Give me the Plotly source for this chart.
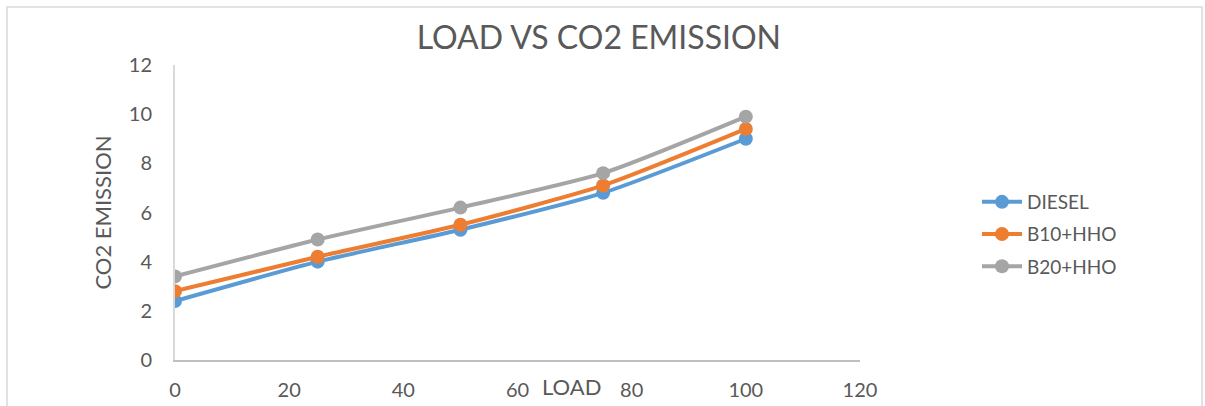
import plotly.graph_objects as go

load = [0, 25, 50, 75, 100]
diesel = [2.4, 4.0, 5.3, 6.8, 9.0]
b10_hho = [2.8, 4.2, 5.5, 7.1, 9.4]
b20_hho = [3.4, 4.9, 6.2, 7.6, 9.9]

series = [("DIESEL", diesel, "#5B9BD5"),
          ("B10+HHO", b10_hho, "#ED7D31"),
          ("B20+HHO", b20_hho, "#A5A5A5")]

W, H = 1205, 406
L, R, T, B = 175, 860, 65, 360

fig = go.Figure()
for name, vals, col in series:
    fig.add_trace(go.Scatter(
        x=load, y=vals, name=name, mode="lines+markers", legendgroup=name,
        line=dict(color=col, width=4, shape="spline", smoothing=0.6),
        marker=dict(color=col, size=14),
    ))

font_family = "Lato"
txt = "#595959"

def px_x(p):
    return (p - L) / (R - L)

def px_y(p):
    return (B - p) / (B - T)

fig.update_layout(
    width=W, height=H,
    margin=dict(l=L, r=W - R, t=T, b=H - B, autoexpand=False),
    paper_bgcolor="white", plot_bgcolor="white",
    font=dict(family=font_family, color=txt),
    title=dict(text="LOAD VS CO2 EMISSION", x=0.497, xanchor="center",
               y=1 - 38 / H, yanchor="middle",
               font=dict(size=32, color=txt, family=font_family)),
    showlegend=True,
    legend=dict(x=px_x(977), xanchor="left", y=px_y(183), yanchor="top",
                font=dict(size=19, color=txt), tracegroupgap=4.5,
                itemwidth=40, bgcolor="rgba(0,0,0,0)"),
    xaxis=dict(range=[0, 120], dtick=20, showgrid=False, zeroline=False,
               showline=True, linecolor="#BFBFBF", linewidth=2, automargin=False,
               ticks="", tickfont=dict(size=20, color=txt), ticklabelstandoff=11),
    yaxis=dict(range=[0, 12], dtick=2, showgrid=False, zeroline=False,
               showline=True, linecolor="#D9D9D9", linewidth=2, automargin=False,
               ticks="", tickfont=dict(size=20, color=txt), ticklabelstandoff=17,
               title=dict(text="CO2 EMISSION", font=dict(size=22, color=txt),
                          standoff=11)),
    shapes=[dict(type="rect", xref="paper", yref="paper",
                 x0=px_x(7), x1=px_x(1202), y0=px_y(430), y1=px_y(7),
                 line=dict(color="#D9D9D9", width=1.5), layer="below")],
    annotations=[dict(text="LOAD", xref="paper", yref="paper",
                      x=px_x(571), y=px_y(386), xanchor="center", yanchor="middle",
                      showarrow=False, font=dict(size=22, color=txt))],
)

fig.write_html("out.html", config={"displayModeBar": False},
               post_script="document.body.style.margin='0';document.body.style.overflow='hidden';")
